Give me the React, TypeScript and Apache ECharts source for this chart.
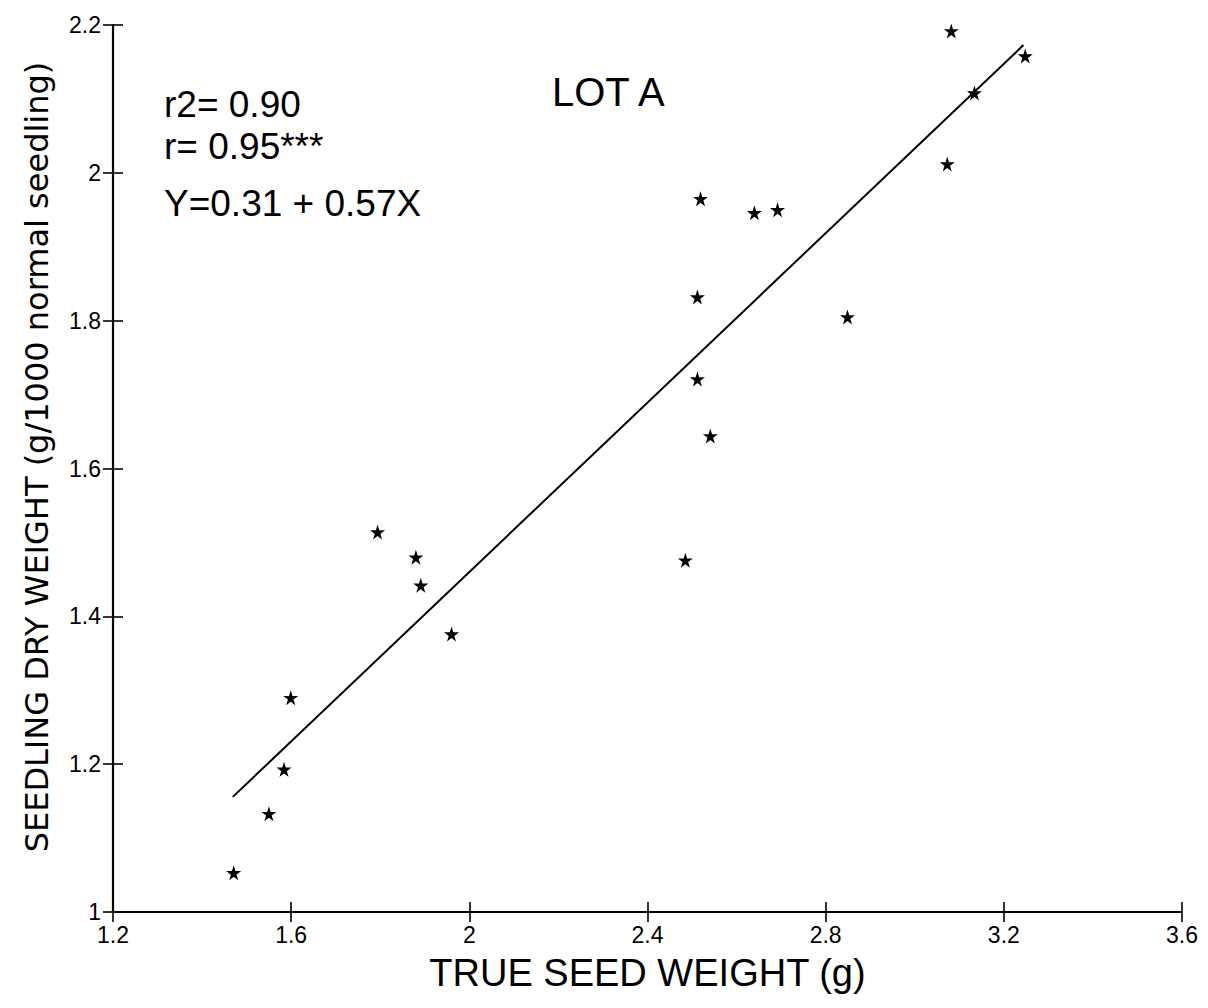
import React, { useEffect, useRef } from "react";
import * as echarts from "echarts";

// True seed weight (g) vs seedling dry weight (g/1000 normal seedling), lot A
const seedWeight = [
  1.471, 1.55, 1.584, 1.599, 1.794, 1.88, 1.891, 1.96, 2.485, 2.512,
  2.512, 2.541, 2.519, 2.64, 2.692, 2.849, 3.073, 3.082, 3.134, 3.248,
];
const dryWeight = [
  1.053, 1.133, 1.193, 1.29, 1.514, 1.48, 1.442, 1.376, 1.476, 1.832,
  1.721, 1.644, 1.965, 1.946, 1.95, 1.805, 2.012, 2.192, 2.108, 2.158,
];

// Fitted regression Y = a + bX, drawn between these x limits
const intercept = 0.314;
const slope = 0.573;
const fitRange = [1.469, 3.244];

const statsLines = ["r2= 0.90", "r= 0.95***", "Y=0.31 + 0.57X"];
const lotLabel = "LOT A";
const xTitle = "TRUE SEED WEIGHT (g)";
const yTitle = "SEEDLING DRY WEIGHT (g/1000 normal seedling)";

const FONT = "'Liberation Sans', Arial, Helvetica, sans-serif";
const WIDE_FONT = "'DejaVu Sans', 'Liberation Sans', sans-serif";
const STAR =
  "path://M50,0 L61,35 L98,35 L68,57 L79,91 L50,70 L21,91 L32,57 L2,35 L39,35 Z";

export default function App() {
  const ref = useRef<HTMLDivElement>(null);

  useEffect(() => {
    if (!ref.current) return;
    const chart = echarts.init(ref.current, null, { renderer: "svg" });

    const points = seedWeight.map((x, i) => [x, dryWeight[i]]);
    const fitLine = fitRange.map((x) => [x, intercept + slope * x]);

    const axisLine = { show: true, lineStyle: { color: "#000", width: 2.2 } };
    const tickStyle = { color: "#000", width: 1.6 };

    chart.setOption({
      animation: false,
      backgroundColor: "#fff",
      textStyle: { fontFamily: FONT },
      grid: { left: 113, right: 26, top: 25, bottom: 96, containLabel: false },
      xAxis: [
        {
          type: "value",
          min: 1.2,
          max: 3.6,
          interval: 0.4,
          name: xTitle,
          nameLocation: "middle",
          nameGap: 42,
          nameTextStyle: { fontSize: 38, color: "#000", fontFamily: FONT },
          axisLine,
          axisTick: { show: true, length: 10, lineStyle: tickStyle },
          axisLabel: { fontSize: 23, color: "#000", margin: 11, fontFamily: FONT },
          splitLine: { show: false },
        },
        {
          type: "value",
          position: "bottom",
          min: 1.2,
          max: 3.6,
          interval: 0.4,
          axisLine: { show: false },
          axisTick: { show: true, inside: true, length: 10, lineStyle: tickStyle },
          axisLabel: { show: false },
          splitLine: { show: false },
        },
      ],
      yAxis: [
        {
          type: "value",
          min: 1,
          max: 2.2,
          interval: 0.2,
          axisLine,
          axisTick: { show: true, length: 10, lineStyle: tickStyle },
          axisLabel: { fontSize: 23, color: "#000", margin: 12, fontFamily: FONT },
          splitLine: { show: false },
        },
        {
          type: "value",
          position: "left",
          min: 1,
          max: 2.2,
          interval: 0.2,
          axisLine: { show: false },
          axisTick: { show: true, inside: true, length: 10, lineStyle: tickStyle },
          axisLabel: { show: false },
          splitLine: { show: false },
        },
      ],
      series: [
        {
          type: "scatter",
          data: points,
          symbol: STAR,
          symbolSize: 15,
          itemStyle: { color: "#000", opacity: 1 },
        },
        {
          type: "line",
          data: fitLine,
          symbol: "none",
          lineStyle: { color: "#000", width: 2 },
        },
      ],
      graphic: [
        {
          type: "text",
          x: 37,
          y: 457,
          rotation: Math.PI / 2,
          style: {
            text: yTitle,
            fontSize: 32,
            fill: "#000",
            fontFamily: WIDE_FONT,
            align: "center",
            verticalAlign: "middle",
          },
        },
        ...statsLines.map((t, i) => ({
          type: "text",
          x: 164,
          y: [104, 146, 203][i],
          style: {
            text: t,
            fontSize: 37,
            fill: "#000",
            fontFamily: FONT,
            verticalAlign: "middle",
          },
        })),
        {
          type: "text",
          x: 552,
          y: 92,
          style: {
            text: lotLabel,
            fontSize: 40,
            fill: "#000",
            fontFamily: FONT,
            verticalAlign: "middle",
          },
        },
      ],
    });

    return () => chart.dispose();
  }, []);

  return (
    <div
      ref={ref}
      style={{ position: "absolute", left: 0, top: 0, width: 1208, height: 1008 }}
    />
  );
}
